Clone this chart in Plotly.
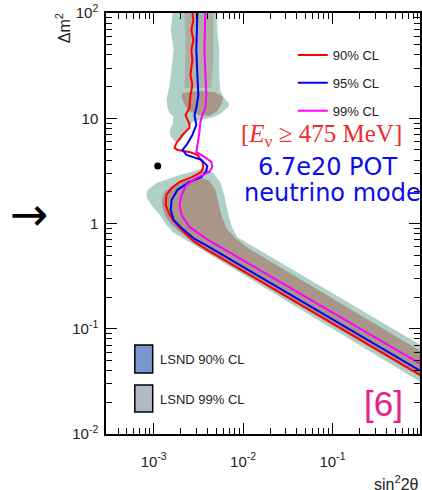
import plotly.graph_objects as go

# ---------------- data ----------------
# 90% CL sensitivity (red)
cl90_sin2 = [2.71e-3, 2.78e-3, 2.64e-3, 2.78e-3, 2.64e-3, 2.71e-3, 2.58e-3, 2.71e-3, 2.58e-3,
             2.51e-3, 2.27e-3, 2.39e-3, 2.51e-3, 2.51e-3, 2.10e-3, 1.80e-3, 1.71e-3, 1.85e-3,
             2.51e-3, 3.08e-3, 3.50e-3, 3.59e-3, 3.42e-3, 2.71e-3, 1.95e-3, 1.59e-3, 1.39e-3,
             1.36e-3, 1.51e-3, 1.71e-3, 2.10e-3, 2.86e-3, 3.88e-3, 1.0]
cl90_dm2 = [100, 85.8, 68.96, 55.4, 44.5, 35.8, 25.8, 20.7, 16.6,
            12.5, 10.7, 9.64, 8.83, 8.09, 6.94, 5.83, 5.22, 5.00,
            4.79, 4.48, 3.85, 3.45, 3.09, 2.77, 2.48, 2.18, 1.87,
            1.50, 1.21, 1.035, 0.851, 0.669, 0.569, 0.0355]

# 95% CL sensitivity (blue)
cl95_sin2 = [3.08e-3, 3.00e-3, 3.08e-3, 3.16e-3, 3.00e-3, 2.86e-3, 3.00e-3, 2.71e-3, 2.33e-3,
             2.10e-3, 2.33e-3, 3.42e-3, 3.98e-3, 3.88e-3, 3.42e-3, 2.51e-3, 1.85e-3, 1.59e-3,
             1.55e-3, 1.67e-3, 2.10e-3, 2.86e-3, 3.88e-3, 1.0]
cl95_dm2 = [100, 44.5, 25.8, 16.6, 12.5, 10.7, 8.64, 6.94, 5.58,
            5.00, 4.48, 4.02, 3.52, 3.16, 2.77, 2.48, 2.09, 1.68,
            1.35, 1.08, 0.889, 0.714, 0.619, 0.0390]

# 99% CL sensitivity (magenta)
cl99_sin2 = [3.78e-3, 3.69e-3, 3.88e-3, 3.78e-3, 3.50e-3, 3.33e-3, 3.24e-3, 3.08e-3, 3.00e-3,
             3.69e-3, 4.41e-3, 4.53e-3, 4.19e-3, 3.00e-3, 2.33e-3, 2.05e-3, 1.95e-3, 2.05e-3,
             2.51e-3, 3.88e-3, 1.0]
cl99_dm2 = [100, 44.5, 16.6, 12.5, 10.7, 9.22, 7.25, 5.58, 4.79,
            4.29, 3.85, 3.45, 3.09, 2.71, 2.33, 1.87, 1.50, 1.21,
            0.928, 0.714, 0.0454]

# LSND 99% CL allowed region (two pieces)
lsnd99_top_sin2 = [1.63e-3, 1.55e-3, 1.67e-3, 1.59e-3, 1.51e-3, 1.39e-3, 1.43e-3, 1.51e-3, 1.67e-3,
                   1.63e-3, 1.51e-3, 1.55e-3, 1.76e-3, 2.00e-3, 2.27e-3, 2.51e-3, 2.71e-3, 3.69e-3,
                   4.76e-3, 5.70e-3, 6.81e-3, 6.99e-3, 6.00e-3, 5.55e-3, 5.41e-3, 5.41e-3, 5.14e-3,
                   5.14e-3]
lsnd99_top_dm2 = [100, 68.96, 44.5, 30.7, 20.7, 14.9, 12.5, 11.2, 10.3,
                  8.83, 7.74, 6.64, 5.96, 6.09, 7.25, 8.45, 9.22, 9.85,
                  10.3, 11.2, 12.8, 13.7, 15.9, 18.6, 25.8, 44.5, 68.96,
                  100]
lsnd99_low_sin2 = [3.69e-3, 4.64e-3, 5.55e-3, 6.15e-3, 6.64e-3, 7.36e-3, 8.58e-3, 1.166e-2, 1.0,
                   1.0, 3.88e-3, 1.63e-3, 1.39e-3, 1.17e-3, 9.75e-4, 9.03e-4, 8.36e-4, 8.36e-4,
                   9.03e-4, 1.08e-3, 1.33e-3, 1.95e-3, 2.86e-3]
lsnd99_low_dm2 = [3.37, 3.02, 2.48, 1.87, 1.35, 0.970, 0.746, 0.640, 0.0688,
                  0.0306, 0.526, 0.832, 0.970, 1.21, 1.44, 1.57, 1.75, 2.00,
                  2.18, 2.43, 2.59, 2.89, 3.16]

# LSND 90% CL allowed region (pieces)
lsnd90_col_sin2 = [2.21e-3, 4.64e-3, 4.64e-3, 4.41e-3, 2.21e-3, 2.27e-3]
lsnd90_col_dm2 = [100, 100, 35.8, 19.4, 19.4, 44.5]
lsnd90_mid_sin2 = [2.10e-3, 3.24e-3, 4.76e-3, 6.00e-3, 5.70e-3, 5.01e-3, 4.19e-3, 3.24e-3, 2.51e-3,
                   2.21e-3, 2.05e-3]
lsnd90_mid_dm2 = [17.4, 18.2, 17.8, 15.9, 13.4, 11.5, 10.5, 10.7, 11.5, 13.4, 15.9]
lsnd90_low_sin2 = [3.24e-3, 4.19e-3, 4.89e-3, 5.28e-3, 5.70e-3, 6.47e-3, 8.15e-3, 1.166e-2, 1.0,
                   1.0, 3.88e-3, 2.51e-3, 1.95e-3, 1.59e-3, 1.36e-3, 1.26e-3, 1.23e-3, 1.33e-3,
                   1.59e-3, 2.21e-3]
lsnd90_low_dm2 = [2.77, 2.54, 2.09, 1.60, 1.21, 0.908, 0.730, 0.574, 0.0603,
                  0.0342, 0.549, 0.699, 0.832, 0.970, 1.155, 1.41, 1.68, 2.00,
                  2.23, 2.54]

# best-fit point
best_sin2 = [1.11e-3]
best_dm2 = [3.52]

x_tickvals = [1e-3, 1e-2, 1e-1, 1.0]
x_ticktext = ["10<sup>-3</sup>", "10<sup>-2</sup>", "10<sup>-1</sup>", ""]
y_tickvals = [1e-2, 1e-1, 1.0, 10.0, 100.0]
y_ticktext = ["10<sup>-2</sup>", "10<sup>-1</sup>", "1", "10", "10<sup>2</sup>"]

TEAL = "#afd0c6"
BROWN = "#aa9689"

fig = go.Figure()

def region(xs, ys, color):
    fig.add_trace(go.Scatter(x=xs + xs[:1], y=ys + ys[:1], mode="lines", fill="toself",
                             fillcolor=color, line=dict(width=0, color=color),
                             hoverinfo="skip", showlegend=False))

region(lsnd99_top_sin2, lsnd99_top_dm2, TEAL)
region(lsnd99_low_sin2, lsnd99_low_dm2, TEAL)
region(lsnd90_col_sin2, lsnd90_col_dm2, "rgba(170,150,137,0.55)")
region(lsnd90_mid_sin2, lsnd90_mid_dm2, BROWN)
region(lsnd90_low_sin2, lsnd90_low_dm2, BROWN)

for xs, ys, col, name in [(cl90_sin2, cl90_dm2, "#ff0000", "90% CL"),
                          (cl95_sin2, cl95_dm2, "#0000ff", "95% CL"),
                          (cl99_sin2, cl99_dm2, "#ff00ff", "99% CL")]:
    fig.add_trace(go.Scatter(x=xs, y=ys, mode="lines", name=name, legendgroup=name,
                             line=dict(color=col, width=2)))

fig.add_trace(go.Scatter(x=best_sin2, y=best_dm2, mode="markers", showlegend=False,
                         marker=dict(color="black", size=7)))

def minor_vals(lo, hi):
    v = []
    for e in range(lo, hi):
        for m in range(2, 10):
            v.append(m * 10.0 ** e)
    return v

axis_common = dict(type="log", showline=True, linecolor="black", linewidth=1.5,
                   mirror="ticks", ticks="inside", ticklen=11, tickwidth=1, tickcolor="black",
                   showgrid=False, zeroline=False,
                   tickfont=dict(family="Liberation Sans", size=15, color="#222"))

fig.update_xaxes(range=[-3.533, -0.022], tickvals=x_tickvals, ticktext=x_ticktext,
                 ticklabelstandoff=13,
                 minor=dict(tickvals=minor_vals(-4, 0), ticks="inside", ticklen=6,
                            tickcolor="black", tickwidth=1, showgrid=False),
                 **axis_common)
fig.update_yaxes(range=[-2, 2], tickvals=y_tickvals, ticktext=y_ticktext,
                 ticklabelstandoff=3,
                 minor=dict(tickvals=minor_vals(-2, 2), ticks="inside", ticklen=6,
                            tickcolor="black", tickwidth=1, showgrid=False),
                 **axis_common)

def px(xp):
    return (xp - 106) / 316.0

def py(yp):
    return (434 - yp) / 421.0

ann = []
ann.append(dict(text="Δm<sup>2</sup>", x=px(63), y=py(28), textangle=-90,
                font=dict(family="Liberation Sans", size=16, color="#222")))
ann.append(dict(text="sin<sup>2</sup>2θ", x=px(374), y=py(483), xanchor="left",
                font=dict(family="Liberation Sans", size=16, color="#222")))
ann.append(dict(text="[<i>E</i><sub>ν</sub> ≥ 475 MeV]", x=px(323), y=py(135),
                font=dict(family="Liberation Serif", size=25, color="#ee2c2c")))
ann.append(dict(text="6.7e20 POT", x=px(329), y=py(167),
                font=dict(family="DejaVu Sans", size=24, color="#0b0bf0")))
ann.append(dict(text="neutrino mode", x=px(334), y=py(193),
                font=dict(family="DejaVu Sans", size=24, color="#0b0bf0")))
ann.append(dict(text="[6]", x=px(385), y=py(403),
                font=dict(family="Liberation Sans", size=35, color="#e8208a")))
ann.append(dict(text="→", x=px(29), y=py(214),
                font=dict(family="DejaVu Sans", size=46, color="black")))
ann.append(dict(text="LSND 90% CL", x=px(158), y=py(359), xanchor="left",
                font=dict(family="Liberation Sans", size=13, color="#222")))
ann.append(dict(text="LSND 99% CL", x=px(158), y=py(399), xanchor="left",
                font=dict(family="Liberation Sans", size=13, color="#222")))
for a in ann:
    a.setdefault("xanchor", "center")
    a.setdefault("yanchor", "middle")
    a.update(xref="paper", yref="paper", showarrow=False)

shapes = [
    dict(type="rect", xref="paper", yref="paper", x0=px(135), x1=px(153), y0=py(373), y1=py(345),
         fillcolor="#7b97d0", line=dict(color="black", width=1.5)),
    dict(type="rect", xref="paper", yref="paper", x0=px(135), x1=px(153), y0=py(412), y1=py(385),
         fillcolor="#afbcc6", line=dict(color="black", width=1.5)),
]

fig.update_layout(width=422, height=490, margin=dict(l=106, r=0, t=13, b=56),
                  plot_bgcolor="white", paper_bgcolor="white",
                  annotations=ann, shapes=shapes,
                  legend=dict(x=px(294), y=py(40), xanchor="left", yanchor="top",
                              bgcolor="rgba(0,0,0,0)", tracegroupgap=8,
                              font=dict(family="Liberation Sans", size=13, color="#222")),
                  showlegend=True)

fig.write_html("out.html")
